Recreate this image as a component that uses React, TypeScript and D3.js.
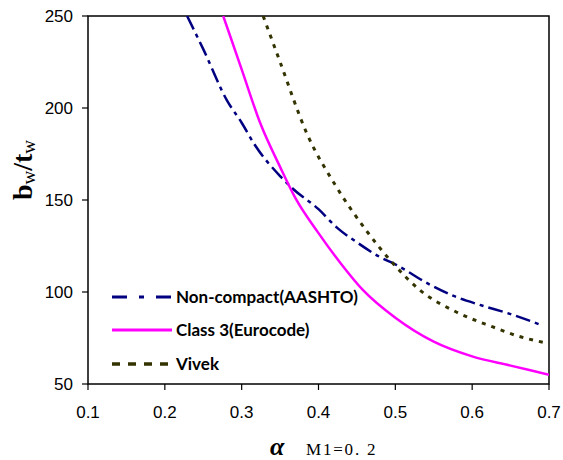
import React from 'react';
import * as d3 from 'd3';

// α values and b_w/t_w
const aashtoAlpha = [0.229, 0.25, 0.281, 0.3, 0.317, 0.35, 0.367, 0.4, 0.424, 0.45, 0.48, 0.5, 0.545, 0.575, 0.61, 0.65, 0.69];
const aashtoValues = [250, 232, 204, 192, 180, 163, 156, 145, 135, 127, 119, 115, 104, 98, 93, 88, 82];

const eurocodeAlpha = [0.276, 0.3, 0.324, 0.35, 0.37, 0.4, 0.43, 0.458, 0.5, 0.55, 0.6, 0.65, 0.7];
const eurocodeValues = [250, 221, 192, 168, 151, 132, 115, 101, 86, 73, 65, 60, 55];

const vivekAlpha = [0.328, 0.35, 0.385, 0.422, 0.463, 0.496, 0.532, 0.58, 0.627, 0.66, 0.7];
const vivekValues = [250, 225, 186, 158, 133, 116, 101, 89, 81, 76, 72];

const xTicks = [0.1, 0.2, 0.3, 0.4, 0.5, 0.6, 0.7];
const yTicks = [50, 100, 150, 200, 250];

const seriesNames = ['Non-compact(AASHTO)', 'Class 3(Eurocode)', 'Vivek'];

const W = 563;
const H = 460;
const plot = { left: 88, right: 549, top: 16, bottom: 384 };

const x = d3.scaleLinear().domain([0.1, 0.7]).range([plot.left, plot.right]);
const y = d3.scaleLinear().domain([50, 250]).range([plot.bottom, plot.top]);

const line = d3.line<[number, number]>()
  .x(d => x(d[0]))
  .y(d => y(d[1]))
  .curve(d3.curveMonotoneX);

const zip = (a: number[], b: number[]) => a.map((v, i) => [v, b[i]] as [number, number]);

const series = [
  { name: seriesNames[0], pts: zip(aashtoAlpha, aashtoValues), color: '#000080', dash: '15 5 4 5', width: 2.5 },
  { name: seriesNames[1], pts: zip(eurocodeAlpha, eurocodeValues), color: '#FF00FF', dash: null, width: 2.5 },
  { name: seriesNames[2], pts: zip(vivekAlpha, vivekValues), color: '#333300', dash: '4 6', width: 3 },
];

const legendDash = ['15 12 5 12 15', null, '8 8'];
const legendY = [297, 330, 364];

const App = () => {
  return (
    <svg width={W} height={H} style={{ position: 'absolute', left: 0, top: 0, background: '#fff' }}>
      <defs>
        <clipPath id="plotClip">
          <rect x={plot.left} y={plot.top} width={plot.right - plot.left} height={plot.bottom - plot.top} />
        </clipPath>
      </defs>

      {/* frame */}
      <rect x={plot.left} y={plot.top} width={plot.right - plot.left} height={plot.bottom - plot.top}
        fill="none" stroke="#000" strokeWidth={1.5} />

      {/* y ticks */}
      {yTicks.map(t => (
        <g key={t}>
          <line x1={plot.left - 6} x2={plot.left} y1={y(t)} y2={y(t)} stroke="#000" strokeWidth={1.2} />
          <text x={plot.left - 15} y={y(t)} dy="0.35em" textAnchor="end"
            fontFamily="Liberation Sans, Arial" fontSize={17} fill="#000">{t}</text>
        </g>
      ))}

      {/* x ticks */}
      {xTicks.map(t => (
        <g key={t}>
          <line x1={x(t)} x2={x(t)} y1={plot.bottom} y2={plot.bottom + 6} stroke="#000" strokeWidth={1.2} />
          <text x={x(t)} y={plot.bottom + 34} textAnchor="middle"
            fontFamily="Liberation Sans, Arial" fontSize={17} fill="#000">{t.toFixed(1)}</text>
        </g>
      ))}

      {/* curves */}
      <g clipPath="url(#plotClip)">
        {series.map(s => (
          <path key={s.name} d={line(s.pts) || ''} fill="none" stroke={s.color}
            strokeWidth={s.width} strokeDasharray={s.dash || undefined} />
        ))}
      </g>

      {/* legend */}
      {series.map((s, i) => (
        <g key={s.name}>
          <line x1={112} x2={172} y1={legendY[i]} y2={legendY[i]} stroke={s.color}
            strokeWidth={s.width + 0.5} strokeDasharray={legendDash[i] || undefined} />
          <text x={176} y={legendY[i]} dy="0.35em" fontFamily="Lato, Carlito, sans-serif"
            fontWeight="bold" fontSize={17} fill="#000">{s.name}</text>
        </g>
      ))}

      {/* y axis title */}
      <text transform={`translate(32,${170}) rotate(-90)`} textAnchor="middle"
        fontFamily="Liberation Serif, Times New Roman, serif" fontWeight="bold" fontSize={28} fill="#000">
        b<tspan fontSize={19} fontWeight="normal" dy={3}>w</tspan><tspan dy={-3}>/t</tspan><tspan fontSize={19} fontWeight="normal" dy={3}>w</tspan>
      </text>

      {/* x axis title */}
      <text x={270} y={455} fontFamily="Liberation Serif, serif" fontWeight="bold" fontStyle="italic"
        fontSize={26} fill="#000">α</text>
      <text x={306} y={455} fontFamily="Liberation Serif, serif" fontSize={17} letterSpacing={1.8} fill="#000">M1=0. 2</text>
    </svg>
  );
};

export default App;
